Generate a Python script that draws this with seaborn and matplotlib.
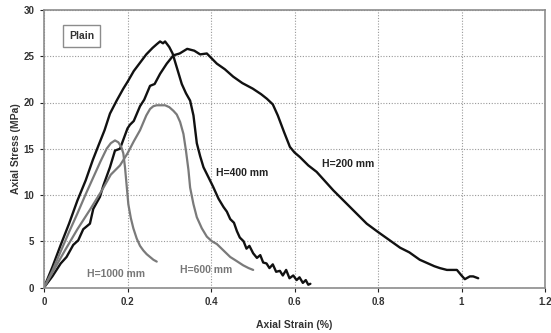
import matplotlib
matplotlib.use("Agg")
import matplotlib.pyplot as plt
import seaborn as sns
import pandas as pd

# ---- data ----
strain_200 = [0, 0.02, 0.04, 0.054, 0.07, 0.082, 0.094, 0.11, 0.118, 0.134, 0.142, 0.158, 0.17, 0.182,
              0.2, 0.206, 0.215, 0.23, 0.24, 0.254, 0.265, 0.278, 0.294, 0.31, 0.325, 0.343, 0.36, 0.374,
              0.39, 0.414, 0.433, 0.453, 0.475, 0.5, 0.52, 0.534, 0.548, 0.56, 0.575, 0.589, 0.6, 0.613,
              0.633, 0.653, 0.673, 0.693, 0.713, 0.733, 0.753, 0.773, 0.8, 0.825, 0.853, 0.875, 0.9,
              0.92, 0.935, 0.948, 0.965, 0.989, 1.0, 1.008, 1.02, 1.028, 1.04]
stress_200 = [0, 1.2, 2.6, 3.3, 4.6, 5.1, 6.3, 6.9, 8.5, 9.8, 11.0, 13.0, 14.8, 15.0,
              17.2, 17.6, 18.0, 19.6, 20.3, 21.8, 22.0, 23.1, 24.2, 25.1, 25.3, 25.8, 25.6, 25.2,
              25.3, 24.2, 23.6, 22.8, 22.1, 21.5, 20.9, 20.4, 19.8, 18.6, 16.8, 15.2, 14.6, 14.1,
              13.2, 12.5, 11.5, 10.5, 9.6, 8.7, 7.8, 6.9, 6.0, 5.2, 4.3, 3.8, 3.0,
              2.6, 2.3, 2.1, 1.9, 1.9, 1.3, 0.9, 1.2, 1.2, 1.0]

strain_400 = [0, 0.02, 0.04, 0.06, 0.08, 0.10, 0.117, 0.13, 0.145, 0.158, 0.174, 0.19, 0.201, 0.215,
              0.23, 0.245, 0.26, 0.27, 0.278, 0.285, 0.29, 0.30, 0.308, 0.318, 0.33, 0.34, 0.35, 0.358,
              0.366, 0.374, 0.382, 0.393, 0.405, 0.418, 0.43, 0.438, 0.446, 0.455, 0.462, 0.469, 0.478,
              0.485, 0.492, 0.501, 0.51, 0.518, 0.525, 0.533, 0.54, 0.548, 0.556, 0.565, 0.572, 0.58,
              0.588, 0.597, 0.605, 0.612, 0.62, 0.627, 0.633, 0.638]
stress_400 = [0, 2.2, 4.6, 6.9, 9.4, 11.6, 13.8, 15.3, 17.0, 18.8, 20.2, 21.5, 22.3, 23.4,
              24.3, 25.2, 25.9, 26.3, 26.6, 26.4, 26.6, 26.0, 25.3, 23.8, 22.0, 21.0, 20.2, 18.6,
              15.6, 14.2, 13.0, 12.0, 10.9, 9.6, 8.7, 8.2, 7.4, 7.0, 6.1, 5.4, 5.0,
              4.2, 4.5, 3.7, 3.2, 3.5, 2.7, 2.6, 2.1, 2.5, 1.7, 1.8, 1.3, 1.9,
              1.0, 1.3, 0.8, 1.1, 0.5, 0.8, 0.3, 0.4]

strain_600 = [0, 0.02, 0.05, 0.08, 0.11, 0.14, 0.16, 0.182, 0.2, 0.215, 0.23, 0.245, 0.254, 0.262,
              0.27, 0.28, 0.29, 0.3, 0.31, 0.318, 0.326, 0.334, 0.34, 0.346, 0.35, 0.358, 0.366, 0.378,
              0.39, 0.402, 0.414, 0.43, 0.446, 0.46, 0.477, 0.49, 0.501]
stress_600 = [0, 1.6, 4.0, 6.3, 8.4, 10.6, 12.2, 13.2, 14.5, 15.8, 17.0, 18.6, 19.3, 19.6,
              19.7, 19.7, 19.7, 19.5, 19.1, 18.7, 17.9, 16.6, 14.8, 12.7, 10.8, 9.0, 7.6, 6.4,
              5.5, 5.0, 4.7, 4.0, 3.3, 2.9, 2.4, 2.1, 1.9]

strain_1000 = [0, 0.02, 0.04, 0.06, 0.08, 0.10, 0.12, 0.135, 0.15, 0.16, 0.17, 0.178, 0.185, 0.19,
               0.194, 0.198, 0.202, 0.208, 0.214, 0.222, 0.23, 0.238, 0.246, 0.254, 0.262, 0.27]
stress_1000 = [0, 1.8, 3.9, 6.0, 8.0, 10.1, 12.1, 13.6, 15.0, 15.6, 15.9, 15.7, 15.2, 14.5,
               13.0, 11.0, 9.0, 7.5, 6.4, 5.3, 4.5, 4.0, 3.6, 3.3, 3.0, 2.8]

series_labels = ["H=200 mm", "H=400 mm", "H=600 mm", "H=1000 mm"]
x_ticks = [0, 0.2, 0.4, 0.6, 0.8, 1.0, 1.2]
x_tick_labels = ["0", "0.2", "0.4", "0.6", "0.8", "1", "1.2"]
y_ticks = [0, 5, 10, 15, 20, 25, 30]

# ---- plotting ----
sns.set_theme(style="white")
plt.rcParams['font.family'] = ['Liberation Sans', 'DejaVu Sans']

fig = plt.figure(figsize=(5.51, 3.33), dpi=100)
ax = fig.add_axes([44 / 551, 1 - 287.5 / 333, (545 - 44) / 551, (287.5 - 10) / 333])

curves = [
    (strain_200, stress_200, "#111111", 1.7),
    (strain_400, stress_400, "#111111", 1.7),
    (strain_600, stress_600, "#7a7a7a", 1.6),
    (strain_1000, stress_1000, "#7a7a7a", 1.6),
]
for (xs, ys, col, lw) in curves:
    sns.lineplot(x=xs, y=ys, sort=False, color=col, linewidth=lw, ax=ax, estimator=None)

ax.set_xlim(0, 1.2)
ax.set_ylim(0, 30)
ax.set_xticks(x_ticks)
ax.set_xticklabels(x_tick_labels)
ax.set_yticks(y_ticks)
ax.grid(True, linestyle=(0, (1.0, 1.5)), color="#999999", linewidth=0.8)
for s in ax.spines.values():
    s.set_color("#8c8c8c")
    s.set_linewidth(1.2)
ax.tick_params(axis="both", labelsize=7, colors="#222222", length=3, width=0.8,
               direction="out", pad=4, bottom=True, left=True)
for lab in ax.get_xticklabels() + ax.get_yticklabels():
    lab.set_fontweight("bold")
    lab.set_color("#333333")

ax.set_xlabel("Axial Strain (%)", fontsize=7.5, fontweight="bold", color="#333333", labelpad=9)
ax.set_ylabel("Axial Stress (MPa)", fontsize=7.5, fontweight="bold", color="#333333", labelpad=2)

ax.text(0.09, 27.2, "Plain", fontsize=7.5, fontweight="bold", color="#333333",
        ha="center", va="center",
        bbox=dict(boxstyle="square,pad=0.6", fc="white", ec="#8c8c8c", lw=1.0))

ax.text(0.665, 13.4, series_labels[0], fontsize=7.5, fontweight="bold", color="#222222",
        ha="left", va="center")
ax.text(0.413, 12.4, series_labels[1], fontsize=7.5, fontweight="bold", color="#222222",
        ha="left", va="center")
ax.text(0.325, 1.9, series_labels[2], fontsize=7.5, fontweight="bold", color="#777777",
        ha="left", va="center")
ax.text(0.103, 1.45, series_labels[3], fontsize=7.5, fontweight="bold", color="#777777",
        ha="left", va="center")

fig.savefig("out.png", dpi=100)
